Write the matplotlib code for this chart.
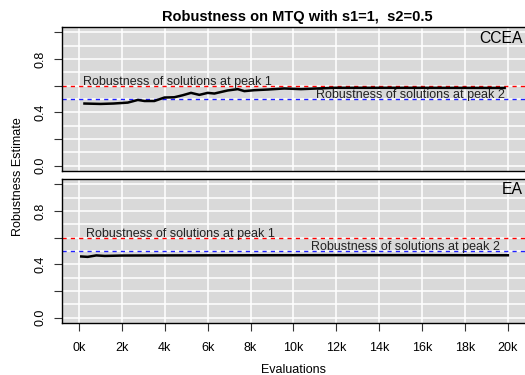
import matplotlib
matplotlib.use("Agg")
import matplotlib.pyplot as plt
import numpy as np

plt.rcParams['font.family'] = ['Liberation Sans', 'DejaVu Sans']

# --- data ---
ccea_evals = [250, 1000, 1600, 2270, 2740, 3050, 3510, 3980, 4440, 4830, 5220,
              5610, 6000, 6310, 6930, 7400, 7710, 8170, 8800, 9570, 10350,
              11900, 15000, 19850]
ccea_rob = [0.466, 0.463, 0.466, 0.473, 0.493, 0.485, 0.485, 0.511, 0.513,
            0.528, 0.546, 0.531, 0.546, 0.541, 0.564, 0.574, 0.559, 0.566,
            0.571, 0.579, 0.574, 0.584, 0.584, 0.583]

ea_evals = [100, 400, 800, 1200, 2000, 4000, 8000, 12000, 16000, 20000]
ea_rob = [0.458, 0.455, 0.466, 0.462, 0.465, 0.466, 0.467, 0.468, 0.468, 0.467]

peak1 = 0.6
peak2 = 0.5
x_ticks = [0, 2000, 4000, 6000, 8000, 10000, 12000, 14000, 16000, 18000, 20000]
x_labels = ['0k', '2k', '4k', '6k', '8k', '10k', '12k', '14k', '16k', '18k', '20k']

panels = [
    ('CCEA', ccea_evals, ccea_rob, 200, 19850),
    ('EA', ea_evals, ea_rob, 330, 19650),
]

fig = plt.figure(figsize=(5.25, 3.75), dpi=100)
ax_top = fig.add_axes([0.118, 0.544, 0.882, 0.384])
ax_bot = fig.add_axes([0.118, 0.139, 0.882, 0.384])

for ax, (name, ev, rob, t1x, t2x) in zip([ax_top, ax_bot], panels):
    ax.set_facecolor('#D9D9D9')
    ax.set_xlim(-800, 20800)
    ax.set_ylim(-0.04, 1.04)
    for gx in x_ticks:
        ax.axvline(gx, color='white', lw=1.1, zorder=1)
    for gy in np.arange(0, 1.01, 0.1):
        ax.axhline(gy, color='white', lw=1.1, zorder=1)
    ax.axhline(peak1, color='#FF0000', lw=1.0, ls=(0, (3, 3)), zorder=2)
    ax.axhline(peak2, color='#2020FF', lw=1.0, ls=(0, (3, 3)), zorder=2)
    ax.plot(ev, rob, color='black', lw=1.8, zorder=3)
    ax.text(t1x, 0.625, 'Robustness of solutions at peak 1', fontsize=9,
            ha='left', va='center', color='#222222', zorder=4)
    ax.text(t2x, 0.528, 'Robustness of solutions at peak 2', fontsize=9,
            ha='right', va='center', color='#222222', zorder=4)
    ax.text(0.995, 0.975, name, transform=ax.transAxes, fontsize=11.3,
            ha='right', va='top')

    ax.set_yticks([0, 0.2, 0.4, 0.6, 0.8, 1.0])
    ax.set_yticklabels(['0.0', '', '0.4', '', '0.8', ''], rotation=90,
                       va='center', fontsize=9)
    ax.tick_params(axis='y', length=6, width=0.8, color='#333333', pad=5)
    for s in ['left', 'bottom', 'top']:
        ax.spines[s].set_color('black')
        ax.spines[s].set_linewidth(1.0)
    ax.spines['right'].set_visible(False)

ax_top.set_xticks([])
ax_bot.set_xticks(x_ticks)
ax_bot.set_xticklabels(x_labels, fontsize=9)
ax_bot.tick_params(axis='x', length=6, width=0.8, color='#333333', pad=8)
ax_bot.set_xlabel('Evaluations', fontsize=9, labelpad=7)

fig.text(0.035, 0.53, 'Robustness Estimate', rotation=90, fontsize=9,
         ha='center', va='center')
fig.text(0.567, 0.956, 'Robustness on MTQ with s1=1,  s2=0.5', fontsize=10.5,
         fontweight='bold', ha='center', va='center')

fig.savefig('out.png', dpi=100)
